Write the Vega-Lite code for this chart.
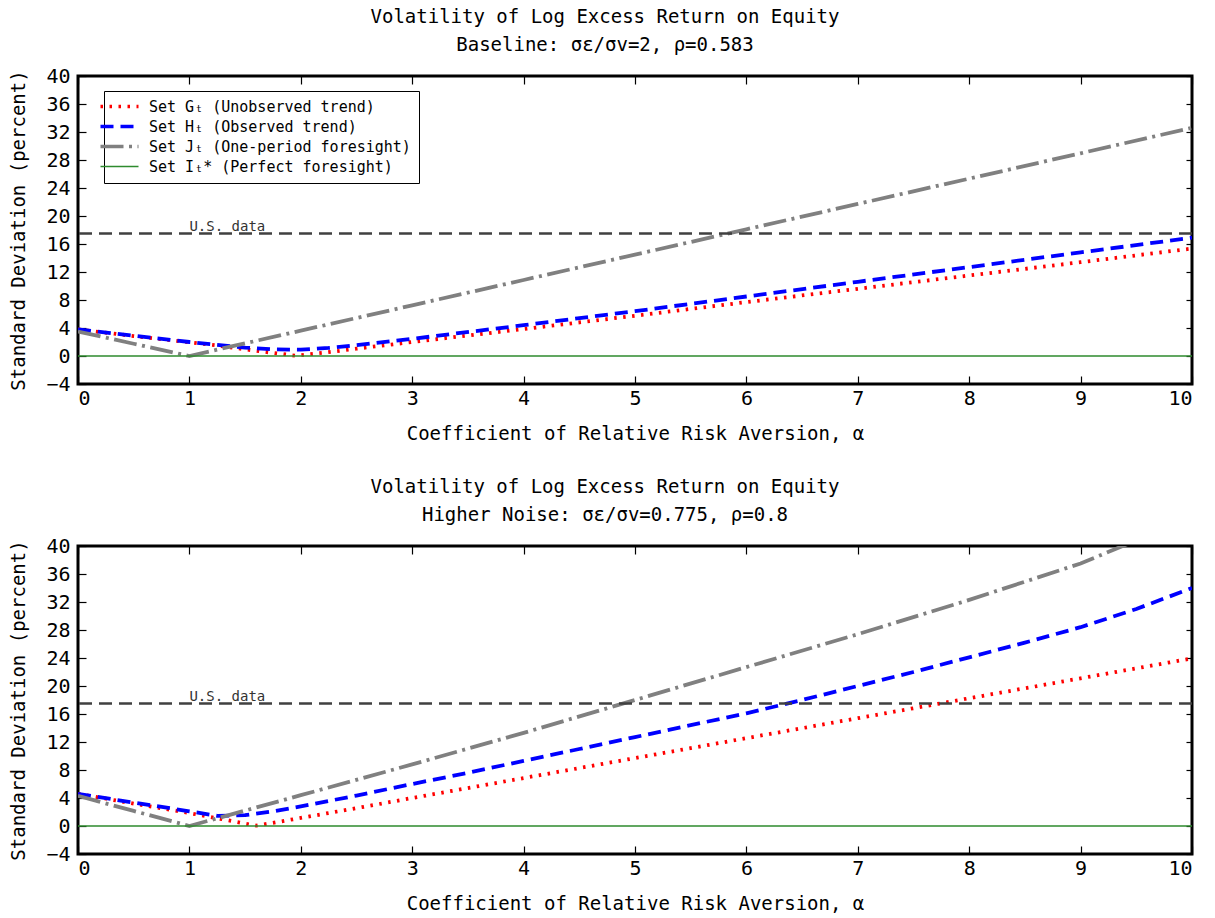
{
  "$schema": "https://vega.github.io/schema/vega-lite/v6.json",
  "background": "white",
  "padding": {"left": 8, "top": 6, "right": 20, "bottom": 5},
  "spacing": 31,
  "config": {
    "font": "DejaVu Sans Mono",
    "view": {"stroke": "black", "strokeWidth": 3},
    "axis": {"grid": false, "domain": false, "tickColor": "black", "tickWidth": 1.2, "labelColor": "black", "labelFontSize": 20, "titleFontSize": 19, "titleFontWeight": "normal", "titleColor": "black", "labelFont": "DejaVu Sans Mono", "titleFont": "DejaVu Sans Mono"},
    "title": {"fontSize": 19, "fontWeight": "normal", "lineHeight": 28, "offset": 11, "color": "black", "font": "DejaVu Sans Mono", "anchor": "middle", "frame": "group", "dx": -30}
  },
  "datasets": {
    "top": [
      {"series": "Set Gₜ (Unobserved trend)", "alpha": 0, "sd": 3.8},
      {"series": "Set Gₜ (Unobserved trend)", "alpha": 0.5, "sd": 2.85},
      {"series": "Set Gₜ (Unobserved trend)", "alpha": 1, "sd": 1.95},
      {"series": "Set Gₜ (Unobserved trend)", "alpha": 1.25, "sd": 1.5},
      {"series": "Set Gₜ (Unobserved trend)", "alpha": 1.5, "sd": 0.95},
      {"series": "Set Gₜ (Unobserved trend)", "alpha": 1.75, "sd": 0.45},
      {"series": "Set Gₜ (Unobserved trend)", "alpha": 1.95, "sd": 0.05},
      {"series": "Set Gₜ (Unobserved trend)", "alpha": 2.2, "sd": 0.45},
      {"series": "Set Gₜ (Unobserved trend)", "alpha": 2.5, "sd": 1.05},
      {"series": "Set Gₜ (Unobserved trend)", "alpha": 3, "sd": 2.0},
      {"series": "Set Gₜ (Unobserved trend)", "alpha": 4, "sd": 3.85},
      {"series": "Set Gₜ (Unobserved trend)", "alpha": 5, "sd": 5.75},
      {"series": "Set Gₜ (Unobserved trend)", "alpha": 6, "sd": 7.7},
      {"series": "Set Gₜ (Unobserved trend)", "alpha": 7, "sd": 9.6},
      {"series": "Set Gₜ (Unobserved trend)", "alpha": 8, "sd": 11.5},
      {"series": "Set Gₜ (Unobserved trend)", "alpha": 9, "sd": 13.4},
      {"series": "Set Gₜ (Unobserved trend)", "alpha": 10, "sd": 15.35},
      {"series": "Set Hₜ (Observed trend)", "alpha": 0, "sd": 3.8},
      {"series": "Set Hₜ (Observed trend)", "alpha": 0.5, "sd": 2.9},
      {"series": "Set Hₜ (Observed trend)", "alpha": 1, "sd": 2.0},
      {"series": "Set Hₜ (Observed trend)", "alpha": 1.25, "sd": 1.6},
      {"series": "Set Hₜ (Observed trend)", "alpha": 1.5, "sd": 1.2},
      {"series": "Set Hₜ (Observed trend)", "alpha": 1.75, "sd": 0.95},
      {"series": "Set Hₜ (Observed trend)", "alpha": 2, "sd": 0.9},
      {"series": "Set Hₜ (Observed trend)", "alpha": 2.25, "sd": 1.15},
      {"series": "Set Hₜ (Observed trend)", "alpha": 2.5, "sd": 1.55},
      {"series": "Set Hₜ (Observed trend)", "alpha": 3, "sd": 2.45},
      {"series": "Set Hₜ (Observed trend)", "alpha": 4, "sd": 4.4},
      {"series": "Set Hₜ (Observed trend)", "alpha": 5, "sd": 6.4},
      {"series": "Set Hₜ (Observed trend)", "alpha": 6, "sd": 8.5},
      {"series": "Set Hₜ (Observed trend)", "alpha": 7, "sd": 10.6},
      {"series": "Set Hₜ (Observed trend)", "alpha": 8, "sd": 12.7},
      {"series": "Set Hₜ (Observed trend)", "alpha": 9, "sd": 14.8},
      {"series": "Set Hₜ (Observed trend)", "alpha": 10, "sd": 16.9},
      {"series": "Set Jₜ (One-period foresight)", "alpha": 0, "sd": 3.5},
      {"series": "Set Jₜ (One-period foresight)", "alpha": 0.5, "sd": 1.75},
      {"series": "Set Jₜ (One-period foresight)", "alpha": 1, "sd": 0},
      {"series": "Set Jₜ (One-period foresight)", "alpha": 2, "sd": 3.62},
      {"series": "Set Jₜ (One-period foresight)", "alpha": 3, "sd": 7.24},
      {"series": "Set Jₜ (One-period foresight)", "alpha": 4, "sd": 10.86},
      {"series": "Set Jₜ (One-period foresight)", "alpha": 5, "sd": 14.48},
      {"series": "Set Jₜ (One-period foresight)", "alpha": 6, "sd": 18.1},
      {"series": "Set Jₜ (One-period foresight)", "alpha": 7, "sd": 21.72},
      {"series": "Set Jₜ (One-period foresight)", "alpha": 8, "sd": 25.34},
      {"series": "Set Jₜ (One-period foresight)", "alpha": 9, "sd": 28.96},
      {"series": "Set Jₜ (One-period foresight)", "alpha": 10, "sd": 32.6},
      {"series": "Set Iₜ* (Perfect foresight)", "alpha": 0, "sd": 0},
      {"series": "Set Iₜ* (Perfect foresight)", "alpha": 10, "sd": 0}
    ],
    "bottom": [
      {"series": "Set Gₜ (Unobserved trend)", "alpha": 0, "sd": 4.6},
      {"series": "Set Gₜ (Unobserved trend)", "alpha": 0.5, "sd": 3.2},
      {"series": "Set Gₜ (Unobserved trend)", "alpha": 1, "sd": 1.85},
      {"series": "Set Gₜ (Unobserved trend)", "alpha": 1.25, "sd": 1.1},
      {"series": "Set Gₜ (Unobserved trend)", "alpha": 1.5, "sd": 0.35},
      {"series": "Set Gₜ (Unobserved trend)", "alpha": 1.6, "sd": 0.05},
      {"series": "Set Gₜ (Unobserved trend)", "alpha": 1.75, "sd": 0.45},
      {"series": "Set Gₜ (Unobserved trend)", "alpha": 2, "sd": 1.15},
      {"series": "Set Gₜ (Unobserved trend)", "alpha": 2.5, "sd": 2.55},
      {"series": "Set Gₜ (Unobserved trend)", "alpha": 3, "sd": 4.0},
      {"series": "Set Gₜ (Unobserved trend)", "alpha": 4, "sd": 6.85},
      {"series": "Set Gₜ (Unobserved trend)", "alpha": 5, "sd": 9.7},
      {"series": "Set Gₜ (Unobserved trend)", "alpha": 6, "sd": 12.55},
      {"series": "Set Gₜ (Unobserved trend)", "alpha": 7, "sd": 15.4},
      {"series": "Set Gₜ (Unobserved trend)", "alpha": 8, "sd": 18.25},
      {"series": "Set Gₜ (Unobserved trend)", "alpha": 9, "sd": 21.1},
      {"series": "Set Gₜ (Unobserved trend)", "alpha": 10, "sd": 23.95},
      {"series": "Set Hₜ (Observed trend)", "alpha": 0, "sd": 4.6},
      {"series": "Set Hₜ (Observed trend)", "alpha": 0.5, "sd": 3.35},
      {"series": "Set Hₜ (Observed trend)", "alpha": 1, "sd": 2.1},
      {"series": "Set Hₜ (Observed trend)", "alpha": 1.25, "sd": 1.45},
      {"series": "Set Hₜ (Observed trend)", "alpha": 1.5, "sd": 1.55},
      {"series": "Set Hₜ (Observed trend)", "alpha": 1.75, "sd": 2.1},
      {"series": "Set Hₜ (Observed trend)", "alpha": 2, "sd": 2.8},
      {"series": "Set Hₜ (Observed trend)", "alpha": 2.5, "sd": 4.35},
      {"series": "Set Hₜ (Observed trend)", "alpha": 3, "sd": 6.0},
      {"series": "Set Hₜ (Observed trend)", "alpha": 3.5, "sd": 7.6},
      {"series": "Set Hₜ (Observed trend)", "alpha": 4, "sd": 9.3},
      {"series": "Set Hₜ (Observed trend)", "alpha": 4.5, "sd": 11.0},
      {"series": "Set Hₜ (Observed trend)", "alpha": 5, "sd": 12.7},
      {"series": "Set Hₜ (Observed trend)", "alpha": 5.5, "sd": 14.4},
      {"series": "Set Hₜ (Observed trend)", "alpha": 6, "sd": 16.1},
      {"series": "Set Hₜ (Observed trend)", "alpha": 6.5, "sd": 18.0},
      {"series": "Set Hₜ (Observed trend)", "alpha": 7, "sd": 20.0},
      {"series": "Set Hₜ (Observed trend)", "alpha": 7.5, "sd": 22.0},
      {"series": "Set Hₜ (Observed trend)", "alpha": 8, "sd": 24.1},
      {"series": "Set Hₜ (Observed trend)", "alpha": 8.5, "sd": 26.2},
      {"series": "Set Hₜ (Observed trend)", "alpha": 9, "sd": 28.4},
      {"series": "Set Hₜ (Observed trend)", "alpha": 9.5, "sd": 31.0},
      {"series": "Set Hₜ (Observed trend)", "alpha": 10, "sd": 34.0},
      {"series": "Set Jₜ (One-period foresight)", "alpha": 0, "sd": 4.3},
      {"series": "Set Jₜ (One-period foresight)", "alpha": 0.5, "sd": 2.15},
      {"series": "Set Jₜ (One-period foresight)", "alpha": 1, "sd": 0},
      {"series": "Set Jₜ (One-period foresight)", "alpha": 1.5, "sd": 2.2},
      {"series": "Set Jₜ (One-period foresight)", "alpha": 2, "sd": 4.4},
      {"series": "Set Jₜ (One-period foresight)", "alpha": 3, "sd": 8.8},
      {"series": "Set Jₜ (One-period foresight)", "alpha": 4, "sd": 13.3},
      {"series": "Set Jₜ (One-period foresight)", "alpha": 5, "sd": 18.0},
      {"series": "Set Jₜ (One-period foresight)", "alpha": 6, "sd": 22.7},
      {"series": "Set Jₜ (One-period foresight)", "alpha": 7, "sd": 27.4},
      {"series": "Set Jₜ (One-period foresight)", "alpha": 8, "sd": 32.3},
      {"series": "Set Jₜ (One-period foresight)", "alpha": 9, "sd": 37.5},
      {"series": "Set Jₜ (One-period foresight)", "alpha": 9.5, "sd": 40.8},
      {"series": "Set Iₜ* (Perfect foresight)", "alpha": 0, "sd": 0},
      {"series": "Set Iₜ* (Perfect foresight)", "alpha": 10, "sd": 0}
    ],
    "ref": [
      {"alpha": 1.0, "sd": 17.5, "label": "U.S. data"}
    ]
  },
  "vconcat": [
    {
      "title": {"text": ["Volatility of Log Excess Return on Equity", "Baseline: σε/σv=2, ρ=0.583"]},
      "width": 1114,
      "height": 308,
      "resolve": {"axis": {"x": "independent", "y": "independent"}},
      "layer": [
        {
          "data": {"name": "top"},
          "mark": {"type": "line", "clip": true, "strokeCap": "butt"},
          "encoding": {
            "x": {"field": "alpha", "type": "quantitative", "scale": {"domain": [0, 10], "nice": false}, "axis": {"orient": "bottom", "values": [0,1,2,3,4,5,6,7,8,9,10], "title": "Coefficient of Relative Risk Aversion, α", "tickSize": -8, "labelPadding": 12, "titlePadding": 16}},
            "y": {"field": "sd", "type": "quantitative", "scale": {"domain": [-4, 40], "nice": false, "zero": false}, "axis": {"orient": "left", "values": [-4,0,4,8,12,16,20,24,28,32,36,40], "title": "Standard Deviation (percent)", "tickSize": -8, "labelPadding": 16, "titlePadding": 17}},
            "color": {"field": "series", "type": "nominal", "scale": {"domain": ["Set Gₜ (Unobserved trend)", "Set Hₜ (Observed trend)", "Set Jₜ (One-period foresight)", "Set Iₜ* (Perfect foresight)"], "range": ["#ff0000", "#0000ff", "#808080", "#2e8b2e"]}, "legend": {"title": null, "orient": "none", "legendX": 26, "legendY": 15, "direction": "vertical", "strokeColor": "black", "fillColor": "white", "padding": 8, "symbolType": "M-1.9,0H1.9", "symbolSize": 400, "symbolStrokeWidth": 3.5, "labelFontSize": 15, "labelColor": "black", "labelFont": "DejaVu Sans Mono", "labelOffset": 22, "rowPadding": 4, "labelLimit": 0, "encode": {"symbols": {"update": {"strokeWidth": {"signal": "datum.label === 'Set Iₜ* (Perfect foresight)' ? 1.5 : 3.5"}}}}}},
            "strokeDash": {"field": "series", "type": "nominal", "scale": {"domain": ["Set Gₜ (Unobserved trend)", "Set Hₜ (Observed trend)", "Set Jₜ (One-period foresight)", "Set Iₜ* (Perfect foresight)"], "range": [[2.5, 6.5], [13, 7], [23, 5.5, 3, 5.5], [1, 0]]}},
            "strokeWidth": {"condition": {"test": "datum.series === 'Set Iₜ* (Perfect foresight)'", "value": 1.5}, "value": 3.8}
          }
        },
        {
          "data": {"name": "ref"},
          "mark": {"type": "rule", "color": "#404040", "strokeWidth": 2.5, "strokeDash": [13, 7]},
          "encoding": {"y": {"field": "sd", "type": "quantitative", "scale": {"domain": [-4, 40], "nice": false, "zero": false}, "axis": null}}
        },
        {
          "data": {"name": "ref"},
          "mark": {"type": "text", "align": "left", "baseline": "alphabetic", "dy": -3, "fontSize": 14, "color": "#333333", "font": "DejaVu Sans Mono"},
          "encoding": {
            "x": {"field": "alpha", "type": "quantitative", "scale": {"domain": [0, 10], "nice": false}, "axis": null},
            "y": {"field": "sd", "type": "quantitative", "scale": {"domain": [-4, 40], "nice": false, "zero": false}, "axis": null},
            "text": {"field": "label"}
          }
        },
        {
          "data": {"name": "ref"},
          "mark": {"type": "point", "opacity": 0},
          "encoding": {
            "x": {"field": "alpha", "type": "quantitative", "scale": {"domain": [0, 10], "nice": false}, "axis": {"orient": "top", "labels": false, "title": null, "values": [0,1,2,3,4,5,6,7,8,9,10], "tickSize": -8}},
            "y": {"field": "sd", "type": "quantitative", "scale": {"domain": [-4, 40], "nice": false, "zero": false}, "axis": {"orient": "right", "labels": false, "title": null, "values": [-4,0,4,8,12,16,20,24,28,32,36,40], "tickSize": -6}}
          }
        }
      ]
    },
    {
      "title": {"text": ["Volatility of Log Excess Return on Equity", "Higher Noise: σε/σv=0.775, ρ=0.8"]},
      "width": 1114,
      "height": 308,
      "resolve": {"axis": {"x": "independent", "y": "independent"}},
      "layer": [
        {
          "data": {"name": "bottom"},
          "mark": {"type": "line", "clip": true, "strokeCap": "butt"},
          "encoding": {
            "x": {"field": "alpha", "type": "quantitative", "scale": {"domain": [0, 10], "nice": false}, "axis": {"orient": "bottom", "values": [0,1,2,3,4,5,6,7,8,9,10], "title": "Coefficient of Relative Risk Aversion, α", "tickSize": -8, "labelPadding": 12, "titlePadding": 16}},
            "y": {"field": "sd", "type": "quantitative", "scale": {"domain": [-4, 40], "nice": false, "zero": false}, "axis": {"orient": "left", "values": [-4,0,4,8,12,16,20,24,28,32,36,40], "title": "Standard Deviation (percent)", "tickSize": -8, "labelPadding": 16, "titlePadding": 17}},
            "color": {"field": "series", "type": "nominal", "scale": {"domain": ["Set Gₜ (Unobserved trend)", "Set Hₜ (Observed trend)", "Set Jₜ (One-period foresight)", "Set Iₜ* (Perfect foresight)"], "range": ["#ff0000", "#0000ff", "#808080", "#2e8b2e"]}, "legend": {"title": null, "orient": "none", "legendX": 26, "legendY": 15, "direction": "vertical", "strokeColor": "black", "fillColor": "white", "padding": 8, "symbolType": "M-1.9,0H1.9", "symbolSize": 400, "symbolStrokeWidth": 3.5, "labelFontSize": 15, "labelColor": "black", "labelFont": "DejaVu Sans Mono", "labelOffset": 22, "rowPadding": 4, "labelLimit": 0, "encode": {"symbols": {"update": {"strokeWidth": {"signal": "datum.label === 'Set Iₜ* (Perfect foresight)' ? 1.5 : 3.5"}}}}}},
            "strokeDash": {"field": "series", "type": "nominal", "scale": {"domain": ["Set Gₜ (Unobserved trend)", "Set Hₜ (Observed trend)", "Set Jₜ (One-period foresight)", "Set Iₜ* (Perfect foresight)"], "range": [[2.5, 6.5], [13, 7], [23, 5.5, 3, 5.5], [1, 0]]}},
            "strokeWidth": {"condition": {"test": "datum.series === 'Set Iₜ* (Perfect foresight)'", "value": 1.5}, "value": 3.8}
          }
        },
        {
          "data": {"name": "ref"},
          "mark": {"type": "rule", "color": "#404040", "strokeWidth": 2.5, "strokeDash": [13, 7]},
          "encoding": {"y": {"field": "sd", "type": "quantitative", "scale": {"domain": [-4, 40], "nice": false, "zero": false}, "axis": null}}
        },
        {
          "data": {"name": "ref"},
          "mark": {"type": "text", "align": "left", "baseline": "alphabetic", "dy": -3, "fontSize": 14, "color": "#333333", "font": "DejaVu Sans Mono"},
          "encoding": {
            "x": {"field": "alpha", "type": "quantitative", "scale": {"domain": [0, 10], "nice": false}, "axis": null},
            "y": {"field": "sd", "type": "quantitative", "scale": {"domain": [-4, 40], "nice": false, "zero": false}, "axis": null},
            "text": {"field": "label"}
          }
        },
        {
          "data": {"name": "ref"},
          "mark": {"type": "point", "opacity": 0},
          "encoding": {
            "x": {"field": "alpha", "type": "quantitative", "scale": {"domain": [0, 10], "nice": false}, "axis": {"orient": "top", "labels": false, "title": null, "values": [0,1,2,3,4,5,6,7,8,9,10], "tickSize": -8}},
            "y": {"field": "sd", "type": "quantitative", "scale": {"domain": [-4, 40], "nice": false, "zero": false}, "axis": {"orient": "right", "labels": false, "title": null, "values": [-4,0,4,8,12,16,20,24,28,32,36,40], "tickSize": -6}}
          }
        }
      ]
    }
  ]
}
